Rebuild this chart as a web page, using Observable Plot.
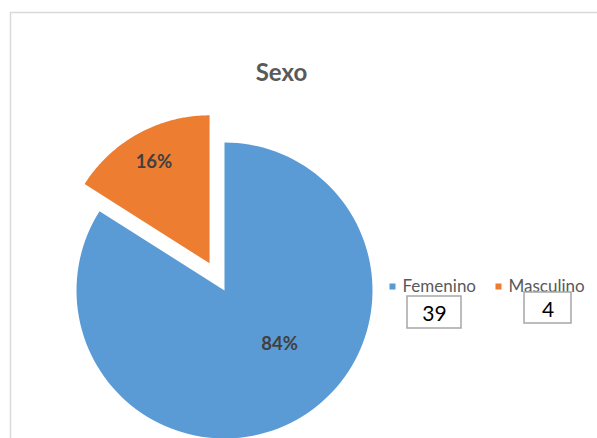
<!DOCTYPE html>
<html>
<head>
<meta charset="utf-8">
<script src="https://cdn.jsdelivr.net/npm/d3@7"></script>
<script src="https://cdn.jsdelivr.net/npm/@observablehq/plot@0.6"></script>
<style>
  html, body { margin: 0; padding: 0; background: #ffffff; }
  #chart svg { display: block; }
</style>
</head>
<body>
<div id="chart"></div>
<script>
// ---- Data ----
const title = "Sexo";
const categories = ["Femenino", "Masculino"];
const percentValues = [84, 16];
const counts = [39, 4];
const colors = ["#5B9BD5", "#ED7D31"];

// ---- Layout (pixel coordinates; x/y scales are identity) ----
const W = 597, H = 438;
const cx = 224, cy = 290, R = 148;
const explode = [0, 31];
const labelRadius = [0.52, 0.78];
const labelAngleShift = [-17, 0]; // degrees
const legendY = 286;
const legendX = [392, 498];
const boxes = [
  {x1: 407, x2: 461, y1: 296, y2: 328},
  {x1: 524, x2: 571, y1: 292, y2: 323}
];

// ---- Geometry ----
const pie = d3.pie().sort(null).value(d => d.v)(
  categories.map((c, i) => ({c, v: percentValues[i]}))
);
const slicePts = [];
const labels = [];
pie.forEach((a, i) => {
  const mid = (a.startAngle + a.endAngle) / 2;
  const ox = cx + explode[i] * Math.sin(mid);
  const oy = cy - explode[i] * Math.cos(mid);
  slicePts.push({cat: a.data.c, x: ox, y: oy});
  const n = 120;
  for (let k = 0; k <= n; k++) {
    const t = a.startAngle + (a.endAngle - a.startAngle) * k / n;
    slicePts.push({cat: a.data.c, x: ox + R * Math.sin(t), y: oy - R * Math.cos(t)});
  }
  slicePts.push({cat: a.data.c, x: ox, y: oy});
  const la = mid + labelAngleShift[i] * Math.PI / 180;
  labels.push({
    x: ox + R * labelRadius[i] * Math.sin(la),
    y: oy - R * labelRadius[i] * Math.cos(la),
    text: Math.round(a.data.v) + "%"
  });
});

const legend = categories.map((c, i) => ({cat: c, x: legendX[i], y: legendY}));
const boxData = boxes.map((b, i) => ({...b, text: String(counts[i])}));

const plot = Plot.plot({
  width: W,
  height: H,
  margin: 0,
  style: {background: "#ffffff", fontFamily: "Lato, sans-serif"},
  x: {domain: [0, W], range: [0, W], axis: null},
  y: {domain: [0, H], range: [0, H], axis: null},
  color: {domain: categories, range: colors},
  marks: [
    // chart frame (left and top edges)
    Plot.ruleX([10], {y1: 12, y2: H, stroke: "#d9d9d9", strokeWidth: 1.5}),
    Plot.ruleY([12], {x1: 10, x2: W, stroke: "#d9d9d9", strokeWidth: 1.5}),
    // slices
    Plot.line(slicePts, {x: "x", y: "y", z: "cat", fill: "cat", stroke: null, curve: "linear"}),
    // percent labels
    Plot.text(labels, {x: "x", y: "y", text: "text", fontSize: 18.5, fontWeight: "bold", fill: "#404040"}),
    // title
    Plot.text([title], {x: 281, y: 73, text: d => d, fontSize: 24, fontWeight: "bold", fill: "#595959"}),
    // legend
    Plot.dot(legend, {x: "x", y: "y", fill: "cat", symbol: "square", r: 3.4, stroke: null}),
    Plot.text(legend, {x: d => d.x + 10, y: "y", text: "cat", textAnchor: "start", fontSize: 17, fill: "#595959"}),
    // count boxes
    Plot.rect(boxData, {x1: "x1", x2: "x2", y1: "y1", y2: "y2", fill: "#ffffff", stroke: "#a6a6a6", strokeWidth: 1.5}),
    Plot.text(boxData, {x: d => (d.x1 + d.x2) / 2, y: d => (d.y1 + d.y2) / 2 + 2, text: "text", fontSize: 21, fill: "#000000"})
  ]
});
document.getElementById("chart").appendChild(plot);
</script>
</body>
</html>
